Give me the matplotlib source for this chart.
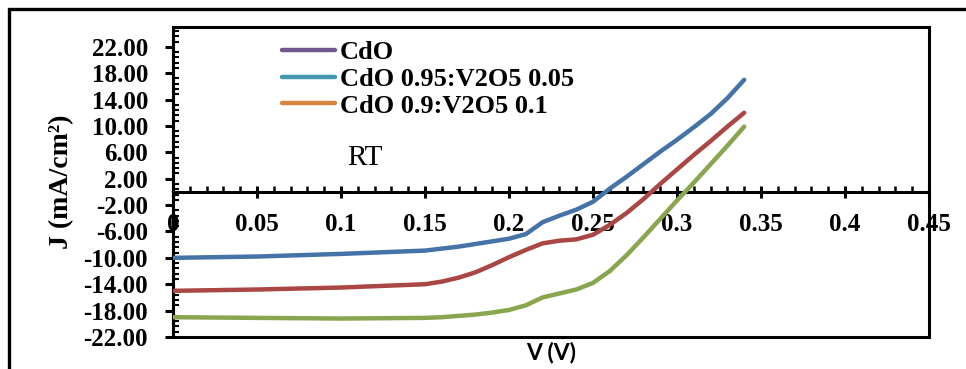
import matplotlib
matplotlib.use("Agg")
import matplotlib.pyplot as plt
from matplotlib.lines import Line2D
from matplotlib.patches import Rectangle
import numpy as np

plt.rcParams['axes.unicode_minus'] = False

# voltage points (V)
v = [0.0, 0.05, 0.1, 0.15, 0.16, 0.17, 0.18, 0.19, 0.2, 0.21, 0.22, 0.23,
     0.24, 0.25, 0.26, 0.27, 0.28, 0.29, 0.3, 0.31, 0.32, 0.33, 0.34]

# current density (mA/cm2)
j_cdo = [-10.0, -9.8, -9.4, -8.9, -8.6, -8.3, -7.9, -7.5, -7.1, -6.4, -4.6, -3.6,
         -2.7, -1.5, 0.5, 2.3, 4.2, 6.1, 7.9, 9.8, 11.8, 14.2, 17.0]
j_005 = [-15.0, -14.8, -14.5, -14.0, -13.6, -13.0, -12.2, -11.1, -9.9, -8.8, -7.8, -7.4,
         -7.2, -6.5, -5.0, -3.2, -1.1, 1.2, 3.4, 5.6, 7.7, 9.9, 12.0]
j_01 = [-19.0, -19.1, -19.2, -19.1, -19.0, -18.8, -18.6, -18.3, -17.9, -17.2, -16.0, -15.4,
        -14.8, -13.8, -12.0, -9.6, -6.9, -4.1, -1.3, 1.4, 4.2, 7.0, 9.9]

series_names = ["CdO", "CdO 0.95:V2O5 0.05", "CdO 0.9:V2O5 0.1"]
line_colors = ["#4572A7", "#AA4643", "#89A54E"]
legend_colors = ["#71588F", "#4198AF", "#DB843D"]

xticks = [0, 0.05, 0.1, 0.15, 0.2, 0.25, 0.3, 0.35, 0.4, 0.45]
xticklabels = ["0", "0.05", "0.1", "0.15", "0.2", "0.25", "0.3", "0.35", "0.4", "0.45"]
yticks = np.arange(-22, 23, 4)

W, H = 966, 369
fig = plt.figure(figsize=(W / 100, H / 100), dpi=100)
ax = fig.add_axes([173 / W, 1 - 337 / H, (929 - 173) / W, (337 - 27) / H])

serif = dict(family="Liberation Serif", weight="bold")

for jj, c, name in zip([j_cdo, j_005, j_01], line_colors, series_names):
    ax.plot(v, jj, color=c, lw=3.2, solid_capstyle="round", zorder=4, label=name)

ax.set_xlim(0, 0.45)
ax.set_ylim(-22, 25)

# spines: y axis at x=0, x axis at y=0
for s in ["top", "right"]:
    ax.spines[s].set_visible(False)
ax.spines["bottom"].set_position(("data", 0))
ax.spines["bottom"].set_linewidth(2.2)
ax.spines["left"].set_linewidth(2.2)
ax.add_patch(Rectangle((0, 0), 1, 1, transform=ax.transAxes, fill=False,
                       lw=2.2, ec="black", clip_on=False, zorder=3))

ax.set_xticks(xticks, xticklabels)
ax.set_xticks(np.arange(0, 0.451, 0.01), minor=True)
ax.set_yticks(yticks, ["%.2f" % t for t in yticks])
ax.set_yticks(np.arange(-22, 25, 0.8), minor=True)

ax.tick_params(axis="x", which="major", direction="inout", length=9, width=2.2, pad=11)
ax.tick_params(axis="x", which="minor", direction="in", length=4, width=1.8)
ax.tick_params(axis="y", which="major", direction="out", length=6, width=2.2, pad=12)
ax.tick_params(axis="y", which="minor", direction="in", length=4, width=1.5)
for lab in ax.get_xticklabels() + ax.get_yticklabels():
    lab.set_fontproperties(dict(family="Liberation Serif", weight="bold", size=18))

ax.set_ylabel("J (mA/cm²)", fontsize=20, labelpad=7, **serif)
ax.set_xlabel("V (V)", fontsize=16.5, family="Lato", weight="bold")
ax.xaxis.set_label_coords(0.5, -0.05)
ax.xaxis.label.set_va("center")

handles = [Line2D([0], [0], color=c, lw=3.2, solid_capstyle="round") for c in legend_colors]
ax.legend(handles, series_names, loc="upper left", bbox_to_anchor=(0.144, 0.955),
          frameon=False, borderpad=0, borderaxespad=0, handlelength=2.0,
          handletextpad=0.2, labelspacing=0.12,
          prop=dict(family="Liberation Serif", weight="bold", size=19))

ax.text(0.231, 0.576, "RT", transform=ax.transAxes, family="Liberation Serif",
        fontsize=21, va="center", ha="left")

# outer chart border (cut off at right and bottom)
fig.add_artist(Rectangle((9 / W, -0.2), 1.2, 1.2 - 9 / H, transform=fig.transFigure,
                         fill=False, lw=2.4, ec="black"))

fig.savefig("out.png", dpi=100)
